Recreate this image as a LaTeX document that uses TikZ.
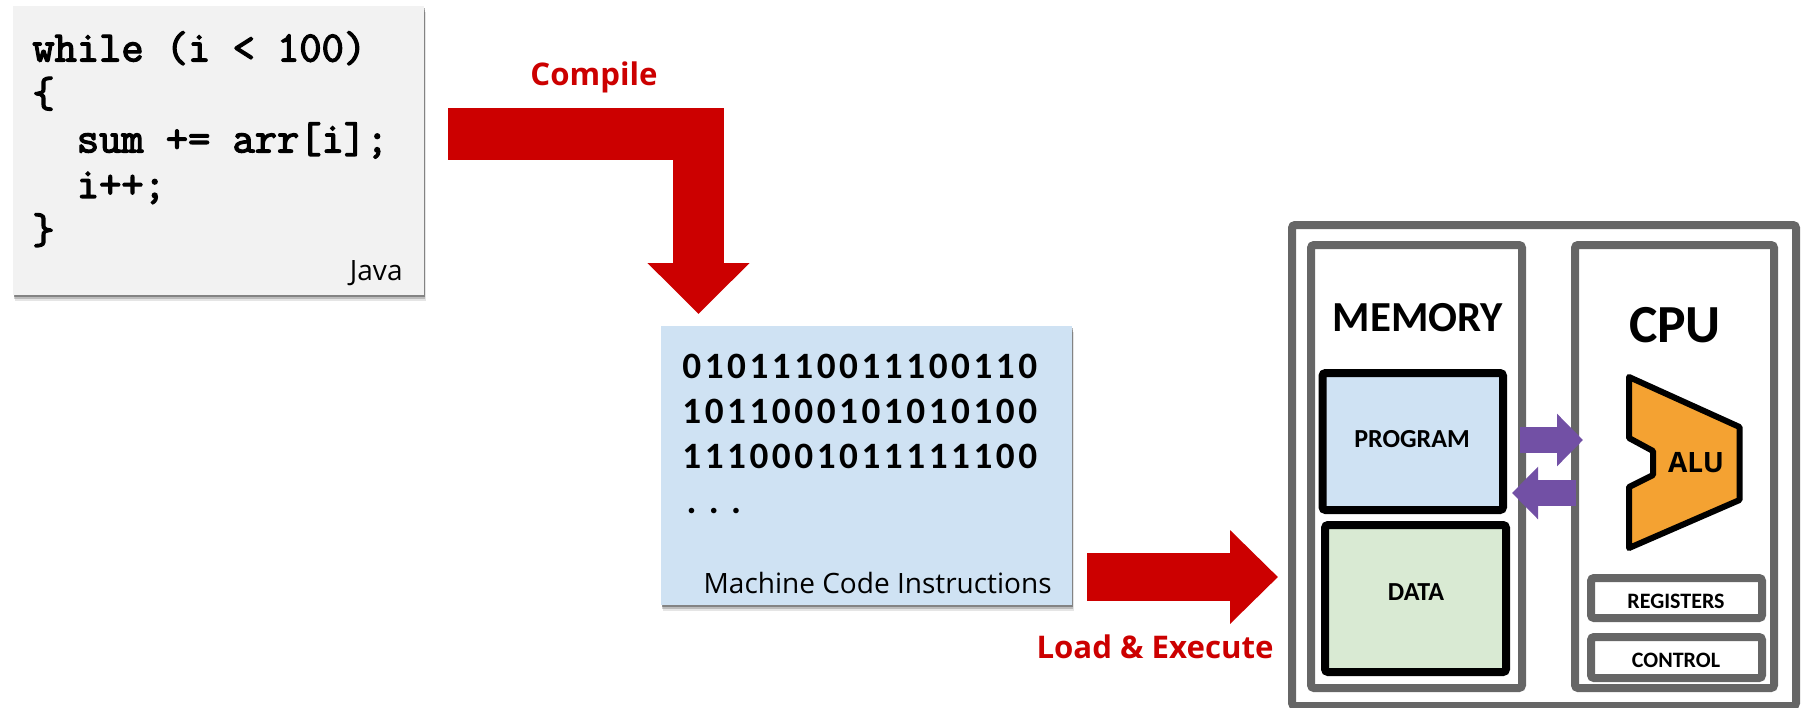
\documentclass[tikz,border=0pt]{standalone}
\usepackage{fontspec}
\setmainfont[Ligatures=NoCommon]{Carlito}
\setmonofont[FakeBold=3]{Latin Modern Mono}
\newfontfamily\labelfont{Open Sans}
\newfontfamily\binfont[LetterSpace=9.5,Ligatures=NoCommon]{Carlito}
\usetikzlibrary{arrows.meta,shadows}
\definecolor{compilered}{HTML}{CC0000}
\definecolor{busviolet}{HTML}{7250A5}
\definecolor{framegray}{HTML}{666666}
\definecolor{alufill}{HTML}{F4A232}
\definecolor{progblue}{HTML}{CFE2F3}
\definecolor{datagreen}{HTML}{D9EAD3}
\tikzset{
  card/.style={rectangle,inner sep=0pt,outer sep=0pt,
    drop shadow={shadow xshift=.9pt,shadow yshift=-3.2pt,fill=black,opacity=.1},
    drop shadow={shadow xshift=.6pt,shadow yshift=-2.2pt,fill=black,opacity=.18},
    drop shadow={shadow xshift=.3pt,shadow yshift=-1.2pt,fill=black,opacity=.3}},
  frame/.style={draw=framegray,line width=4pt,rectangle,rounded corners=1.5pt,inner sep=0pt,outer sep=0pt},
  memcell/.style={draw=black,line width=4pt,rectangle,rounded corners=1.5pt,inner sep=0pt,outer sep=0pt},
  redlabel/.style={text=compilered,inner sep=0pt,font=\fontsize{15.6}{19}\labelfont\bfseries},
  unitlabel/.style={font=\fontsize{#1}{#1}\selectfont\bfseries},
  busarrow/.style={busviolet,line width=13pt,-{Triangle[length=13pt,width=25.5pt]}}
}
\begin{document}
\begin{tikzpicture}[x=.5pt,y=-.5pt]
  \useasboundingbox (0,0) rectangle (1802,707);

  \node[card,fill=black!5,minimum width=205.5pt,minimum height=144.5pt] (javabox) at (218.5,150.5) {};
  \node[anchor=north west,inner sep=0pt,align=left,font=\fontsize{21.6}{22.75}\ttfamily] (javacode) at (32,31)
    {while (i < 100)\\ \{\\ ~~sum += arr[i];\\ ~~i++;\\ \}};
  \node[anchor=base east,inner sep=0pt,font=\fontsize{14}{16}\labelfont] (javalabel) at (403,280) {Java};

  \node[card,fill=progblue,minimum width=205.5pt,minimum height=139.5pt] (machinebox) at (866.5,465.5) {};
  \node[anchor=north west,inner sep=0pt,align=left,font=\fontsize{18.6}{22.5}\binfont\bfseries] (machinecode) at (682,354)
    {0101110011100110\\ 1011000101010100\\ 1110001011111100\\ \hspace*{-1pt}\makebox[11.15pt]{.}\makebox[11.15pt]{.}\makebox[11.15pt]{.}};
  \node[anchor=base east,inner sep=0pt,font=\fontsize{14}{16}\labelfont] (machinelabel) at (1052,593) {Machine Code Instructions};

  \node[redlabel] (compilelabel) at (594,77) {Compile};
  \node[redlabel] (loadlabel) at (1155,647) {Load \& Execute};

  \node[frame,minimum width=252pt,minimum height=240.5pt] (systembox) at (1544,465.5) {};
  \node[frame,minimum width=105.5pt,minimum height=221.5pt] (memorybox) at (1416.5,466.5) {};
  \node[frame,minimum width=99.5pt,minimum height=221.5pt] (cpubox) at (1674.5,466.5) {};

  \node[unitlabel=21.4] (memorylabel) at (1418,318) {MEMORY};
  \node[unitlabel=26.8] (cpulabel) at (1675,325) {CPU};

  \node[memcell,fill=progblue,minimum width=90.25pt,minimum height=68.5pt] (programbox) at (1412.75,441.5) {};
  \node[memcell,fill=datagreen,minimum width=90.5pt,minimum height=73.5pt] (databox) at (1415.5,598.5) {};
  \node[unitlabel=13] (programlabel) at (1412,439) {PROGRAM};
  \node[unitlabel=13] (datalabel) at (1416,592) {DATA};

  % ALU outline
  \draw[draw=black,fill=alufill,line width=3pt,line join=round]
    (1629,377) -- (1739.5,427) -- (1739.5,500) -- (1629,548) -- (1629,487)
    -- (1653,475) -- (1653,451) -- (1629,438) -- cycle;
  \node[font=\fontsize{14}{14}\labelfont\bfseries] (alulabel) at (1696,463) {ALU};

  \node[frame,minimum width=85.5pt,minimum height=20pt] (registersbox) at (1676.5,598) {};
  \node[frame,minimum width=85.5pt,minimum height=20.5pt] (controlbox) at (1676.5,657.5) {};
  \node[unitlabel=11] (registerslabel) at (1676,601) {REGISTERS};
  \node[unitlabel=11] (controllabel) at (1676,660) {CONTROL};

  \draw[compilered,line width=25.75pt,-{Triangle[length=25.5pt,width=49.5pt]}]
    ([shift={(24,-16.5)}]javabox.east) -| ([shift={(37.5,-12)}]machinebox.north west);
  \draw[compilered,line width=24pt,-{Triangle[length=24pt,width=45.5pt]}]
    ([shift={(15,111.5)}]machinebox.east) -- ([shift={(-14,111.5)}]systembox.west);

  \draw[busarrow] ([shift={(17,-1.5)}]programbox.east) -- ([shift={(8,-26.5)}]cpubox.west);
  \draw[busarrow] ([shift={(1,26.5)}]cpubox.west) -- ([shift={(9,51.5)}]programbox.east);
\end{tikzpicture}
\end{document}
